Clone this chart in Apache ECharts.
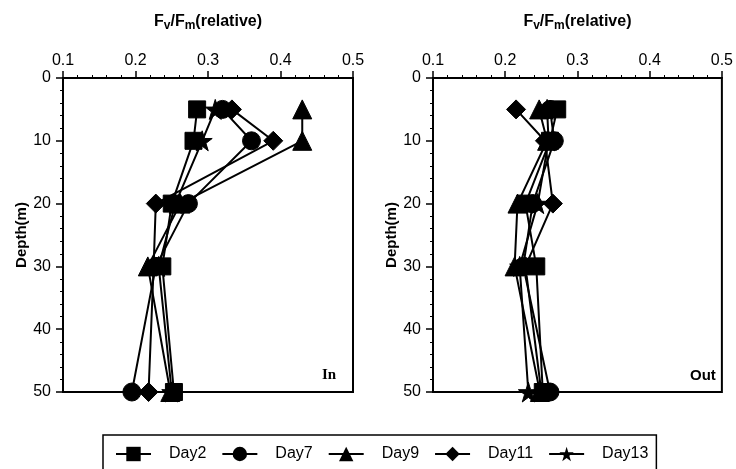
<!DOCTYPE html>
<html><head><meta charset="utf-8">
<script src="https://cdn.jsdelivr.net/npm/echarts@6/dist/echarts.min.js"></script>
<style>html,body{margin:0;padding:0;background:#fff}#c{width:736px;height:469px}</style>
</head><body><div id="c"></div>
<script>
const depths = [5, 10, 20, 30, 50];
const dayNames = ['Day2', 'Day7', 'Day9', 'Day11', 'Day13'];
const inDay2  = [0.285, 0.280, 0.250, 0.237, 0.253];
const inDay7  = [0.320, 0.360, 0.273, 0.228, 0.195];
const inDay9  = [0.430, 0.430, 0.262, 0.217, 0.248];
const inDay11 = [0.333, 0.390, 0.228, 0.225, 0.218];
const inDay13 = [0.310, 0.292, 0.255, 0.232, 0.250];
const outDay2  = [0.272, 0.262, 0.228, 0.243, 0.252];
const outDay7  = [0.262, 0.268, 0.238, 0.225, 0.262];
const outDay9  = [0.247, 0.258, 0.217, 0.213, 0.248];
const outDay11 = [0.215, 0.255, 0.266, 0.228, 0.250];
const outDay13 = [0.258, 0.260, 0.245, 0.220, 0.232];
const xTicks = [0.1, 0.2, 0.3, 0.4, 0.5];
const yTicks = [0, 10, 20, 30, 40, 50];

const inSets = [inDay2, inDay7, inDay9, inDay11, inDay13];
const outSets = [outDay2, outDay7, outDay9, outDay11, outDay13];
const STAR = 'path://M50,0 L61,35 L98,35 L68,57 L79,91 L50,70 L21,91 L32,57 L2,35 L39,35 Z';
const symbols = ['rect', 'circle', 'triangle', 'diamond', STAR];
const sizes = [17, 18, 19, 19, 20];

const FONT = 'Liberation Sans';
function xAxis(gi) {
  return {
    gridIndex: gi, type: 'value', position: 'top',
    min: xTicks[0], max: xTicks[xTicks.length - 1], interval: 0.1,
    name: '{t|F}{s|v}{t|/F}{s|m}{t|(relative)}', nameLocation: 'middle', nameGap: 46,
    nameTextStyle: { rich: {
      t: { fontFamily: FONT, fontSize: 16, fontWeight: 'bold', color: '#000' },
      s: { fontFamily: FONT, fontSize: 12, fontWeight: 'bold', color: '#000', verticalAlign: 'bottom', padding: [9, 0, 0, 0] }
    } },
    axisLine: { lineStyle: { color: '#000', width: 2 } },
    axisTick: { length: 7, lineStyle: { color: '#000', width: 1.5 } },
    minorTick: { show: true, splitNumber: 5, length: 3, lineStyle: { color: '#000' } },
    axisLabel: { color: '#000', fontFamily: FONT, fontSize: 16, margin: 9,
      formatter: v => v.toFixed(1) },
    splitLine: { show: false }
  };
}
function yAxis(gi, named) {
  return {
    gridIndex: gi, type: 'value', inverse: true,
    min: yTicks[0], max: yTicks[yTicks.length - 1], interval: 10,
    name: named ? 'Depth(m)' : '', nameLocation: 'middle', nameGap: 34, nameRotate: 90,
    nameTextStyle: { fontFamily: FONT, fontSize: 15, fontWeight: 'bold', color: '#000' },
    axisLine: { lineStyle: { color: '#000', width: 2 } },
    axisTick: { length: 7, lineStyle: { color: '#000', width: 1.5 } },
    minorTick: { show: true, splitNumber: 5, length: 3, lineStyle: { color: '#000' } },
    axisLabel: { color: '#000', fontFamily: FONT, fontSize: 16, margin: 12 },
    splitLine: { show: false }
  };
}
const series = [];
[inSets, outSets].forEach((sets, gi) => {
  sets.forEach((vals, i) => {
    series.push({
      name: dayNames[i], type: 'line', xAxisIndex: gi, yAxisIndex: gi,
      data: vals.map((v, k) => [v, depths[k]]),
      symbol: symbols[i], symbolSize: sizes[i], showSymbol: true,
      lineStyle: { color: '#000', width: 2 },
      itemStyle: { color: '#000', borderColor: '#000' },
      z: 3, animation: false
    });
  });
});
const chart = echarts.init(document.getElementById('c'));
chart.setOption({
  animation: false,
  backgroundColor: '#fff',
  grid: [
    { left: 63, top: 78, width: 290, height: 314, show: true, borderColor: '#000', borderWidth: 2, backgroundColor: 'transparent' },
    { left: 433, top: 78, width: 290, height: 314, show: true, borderColor: '#000', borderWidth: 2, backgroundColor: 'transparent' }
  ],
  xAxis: [xAxis(0), xAxis(1)],
  yAxis: [yAxis(0, true), yAxis(1, true)],
  legend: {
    data: dayNames, left: 103, top: 435, width: 540,
    borderColor: '#000', borderWidth: 1.5, padding: [11, 8, 14, 12],
    itemWidth: 35, itemHeight: 18, itemGap: 15,
    textStyle: { fontFamily: FONT, fontSize: 16, color: '#000', padding: [0, 0, 0, 13] },
    itemStyle: { color: '#000' }, lineStyle: { color: '#000', width: 2 }
  },
  graphic: [
    { type: 'text', left: 322, top: 368, style: { text: 'In', font: 'bold 15px "Liberation Serif"', fill: '#000' } },
    { type: 'text', left: 690, top: 368, style: { text: 'Out', font: 'bold 15px "Liberation Sans"', fill: '#000' } }
  ],
  series: series
});
</script></body></html>
